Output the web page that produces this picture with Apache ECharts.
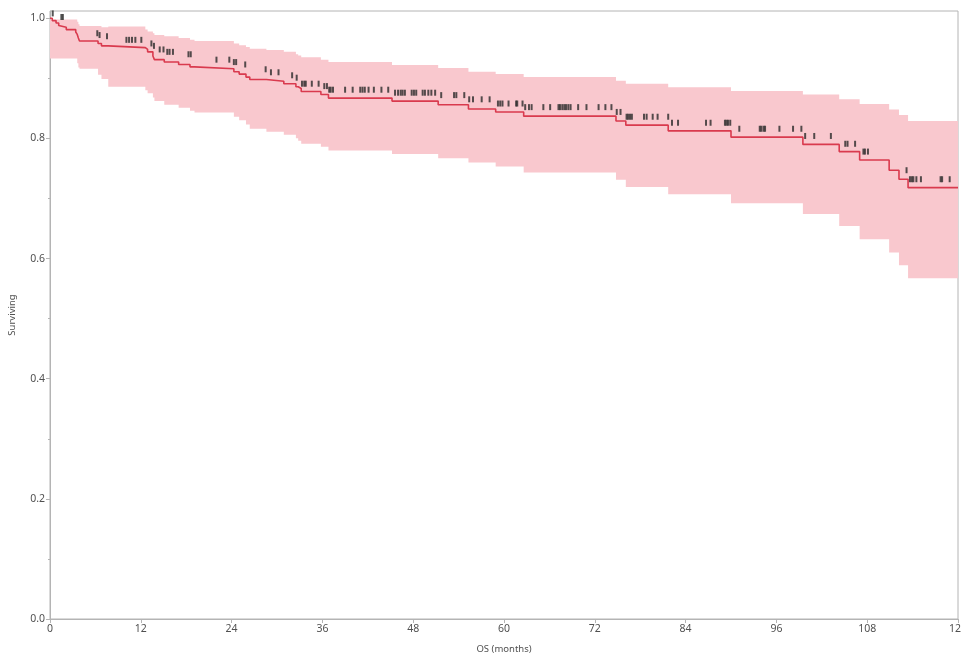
<!DOCTYPE html>
<html>
<head>
<meta charset="utf-8">
<title>Overall survival</title>
<script src="https://cdn.jsdelivr.net/npm/echarts@6/dist/echarts.min.js"></script>
<style>
  html, body { margin: 0; padding: 0; background: #ffffff; }
  #chart { width: 961px; height: 655px; }
</style>
</head>
<body>
<div id="chart"></div>
<script>
// Kaplan-Meier estimate: event times (months) and survival after each event
const eventTime = [0, 0.3, 0.8, 1.15, 1.3, 2.15, 3.4, 3.6, 3.75, 3.9, 6.35, 6.8, 7.7,
  12.6, 12.9, 13.6, 13.8, 15.1, 17.0, 18.5, 19.1, 24.3, 25.0, 25.9, 26.4, 28.6, 30.9,
  32.5, 32.8, 33.2, 35.8, 36.8, 45.2, 51.3, 55.3, 58.9, 62.6, 74.8, 76.1, 81.7, 90.0,
  99.5, 104.3, 107.0, 110.9, 112.2, 113.4];
const survival = [1.000, 0.996, 0.992, 0.988, 0.985, 0.981, 0.977, 0.973, 0.967, 0.962,
  0.958, 0.954, 0.951, 0.948, 0.944, 0.937, 0.931, 0.927, 0.923, 0.919, 0.916, 0.911,
  0.907, 0.902, 0.898, 0.895, 0.891, 0.886, 0.883, 0.878, 0.873, 0.867, 0.862, 0.856,
  0.849, 0.844, 0.837, 0.829, 0.822, 0.8125, 0.802, 0.790, 0.778, 0.764, 0.747, 0.732, 0.718];
const lowerCI = [0.933, 0.933, 0.933, 0.933, 0.933, 0.933, 0.933, 0.925, 0.918, 0.916,
  0.906, 0.899, 0.886, 0.880, 0.875, 0.868, 0.862, 0.856, 0.851, 0.846, 0.843, 0.836,
  0.830, 0.823, 0.816, 0.811, 0.806, 0.800, 0.796, 0.791, 0.786, 0.780, 0.774, 0.767,
  0.760, 0.753, 0.743, 0.731, 0.719, 0.707, 0.692, 0.674, 0.654, 0.632, 0.610, 0.589, 0.567];
const upperCI = [0.998, 0.998, 0.998, 0.998, 0.998, 0.998, 0.998, 0.994, 0.990, 0.987,
  0.987, 0.985, 0.986, 0.981, 0.978, 0.975, 0.972, 0.970, 0.967, 0.964, 0.962, 0.958,
  0.955, 0.952, 0.949, 0.947, 0.944, 0.940, 0.938, 0.935, 0.931, 0.927, 0.922, 0.917,
  0.911, 0.907, 0.902, 0.896, 0.891, 0.885, 0.879, 0.873, 0.865, 0.857, 0.848, 0.839, 0.829];
const followUpEnd = 120;

// Censored observations (time, plotted level)
const censorTime = [0.36, 1.5, 1.7, 6.25, 6.55, 7.53, 10.1, 10.45, 10.84, 11.28, 12.07,
  13.4, 13.74, 14.5, 15.0, 15.5, 15.8, 16.25, 18.3, 18.6, 22.0, 23.7, 24.3, 24.6, 25.8,
  28.5, 29.2, 30.2, 32.0, 32.6, 33.3, 33.6, 33.8, 34.6, 35.5, 36.25, 36.6, 36.9, 37.1,
  37.4, 39.0, 40.0, 41.0, 41.3, 41.6, 42.1, 42.8, 43.8, 44.7, 45.6, 46.0, 46.35, 46.6,
  46.9, 47.8, 48.1, 48.4, 49.25, 49.55, 50.0, 50.4, 50.9, 51.7, 53.4, 53.7, 54.75, 55.4,
  55.9, 57.05, 58.1, 59.2, 59.5, 59.8, 60.6, 61.6, 61.75, 62.45, 62.8, 63.3, 63.65, 65.2,
  66.1, 67.2, 67.4, 67.7, 67.97, 68.2, 68.5, 68.8, 69.8, 70.9, 72.5, 73.4, 74.2, 74.9,
  75.4, 76.2, 76.4, 76.65, 76.9, 78.5, 78.85, 79.65, 80.3, 81.7, 82.2, 83.0, 86.7, 87.3,
  89.2, 89.4, 89.6, 89.9, 91.1, 93.8, 94.0, 94.3, 94.5, 96.4, 98.2, 99.3, 99.8, 101.0,
  103.2, 105.1, 105.4, 106.4, 107.5, 107.7, 108.1, 113.2, 113.65, 113.9, 114.1, 114.5,
  115.1, 117.7, 117.9, 118.9];
const censorLevel = [1.008, 1.002, 1.002, 0.975, 0.972, 0.970, 0.964, 0.964, 0.964, 0.964,
  0.964, 0.958, 0.954, 0.948, 0.948, 0.944, 0.944, 0.944, 0.940, 0.940, 0.931, 0.931,
  0.927, 0.927, 0.923, 0.915, 0.910, 0.910, 0.905, 0.901, 0.891, 0.891, 0.891, 0.891,
  0.891, 0.887, 0.887, 0.881, 0.881, 0.881, 0.881, 0.881, 0.881, 0.881, 0.881, 0.881,
  0.881, 0.881, 0.881, 0.876, 0.876, 0.876, 0.876, 0.876, 0.876, 0.876, 0.876, 0.876,
  0.876, 0.876, 0.876, 0.876, 0.872, 0.872, 0.872, 0.872, 0.865, 0.865, 0.865, 0.865,
  0.858, 0.858, 0.858, 0.858, 0.858, 0.858, 0.858, 0.852, 0.852, 0.852, 0.852, 0.852,
  0.852, 0.852, 0.852, 0.852, 0.852, 0.852, 0.852, 0.852, 0.852, 0.852, 0.852, 0.852,
  0.844, 0.844, 0.836, 0.836, 0.836, 0.836, 0.836, 0.836, 0.836, 0.836, 0.836, 0.826,
  0.826, 0.826, 0.826, 0.826, 0.826, 0.826, 0.826, 0.816, 0.816, 0.816, 0.816, 0.816,
  0.816, 0.816, 0.816, 0.804, 0.804, 0.804, 0.791, 0.791, 0.791, 0.778, 0.778, 0.778,
  0.747, 0.732, 0.732, 0.732, 0.732, 0.732, 0.732, 0.732, 0.732];

// Axis ticks
const monthTicks = [0, 12, 24, 36, 48, 60, 72, 84, 96, 108, 120];
const survivalTicks = [0, 0.2, 0.4, 0.6, 0.8, 1.0];

const lastIdx = eventTime.length - 1;
const kmData = eventTime.map((t, i) => [t, survival[i]]).concat([[followUpEnd, survival[lastIdx]]]);
const bandData = eventTime.map((t, i) => [t, lowerCI[i], upperCI[i]]);
const censorData = censorTime.map((t, i) => [t, censorLevel[i]]);

const axisGrey = '#b4b4b4';
const textGrey = '#505050';
const fontFamily = '"Noto Sans", "Open Sans", sans-serif';

const chart = echarts.init(document.getElementById('chart'), null, { renderer: 'canvas' });

chart.setOption({
  animation: false,
  backgroundColor: '#ffffff',
  grid: {
    left: 50, right: 3, top: 11, bottom: 36,
    containLabel: false,
    outerBoundsMode: 'none',
    show: true, borderColor: axisGrey, borderWidth: 1, backgroundColor: 'transparent'
  },
  xAxis: {
    type: 'value',
    min: monthTicks[0],
    max: monthTicks[monthTicks.length - 1],
    interval: 12,
    name: 'OS (months)',
    nameLocation: 'middle',
    nameGap: 25,
    nameTextStyle: { color: textGrey, fontSize: 9.5, fontFamily: fontFamily },
    axisLine: { lineStyle: { color: axisGrey, width: 1 } },
    axisTick: { length: 4, lineStyle: { color: axisGrey } },
    axisLabel: { color: textGrey, fontSize: 10.5, fontFamily: fontFamily, margin: 5, hideOverlap: false },
    splitLine: { show: false }
  },
  yAxis: {
    type: 'value',
    min: 0,
    max: 1.012,
    interval: 0.2,
    name: 'Surviving',
    nameLocation: 'middle',
    nameGap: 33,
    nameTextStyle: { color: textGrey, fontSize: 9.5, fontFamily: fontFamily },
    axisLine: { show: true, lineStyle: { color: axisGrey, width: 1 } },
    axisTick: { show: true, length: 4, lineStyle: { color: axisGrey }, customValues: survivalTicks },
    minorTick: { show: true, splitNumber: 2, length: 2, lineStyle: { color: axisGrey } },
    minorSplitLine: { show: false },
    axisLabel: {
      color: textGrey, fontSize: 10.5, fontFamily: fontFamily, margin: 5,
      customValues: survivalTicks,
      formatter: v => v.toFixed(1)
    },
    splitLine: { show: false }
  },
  series: [
    {
      // 95% confidence band drawn as one stepped polygon
      type: 'custom',
      coordinateSystem: 'cartesian2d',
      data: bandData,
      encode: { x: 0, y: [1, 2] },
      silent: true,
      z: 1,
      renderItem: function (params, api) {
        if (params.dataIndex !== 0) return null;
        const top = [];
        const bottom = [];
        for (let i = 0; i < eventTime.length; i++) {
          const t0 = eventTime[i];
          const t1 = i < lastIdx ? eventTime[i + 1] : followUpEnd;
          top.push(api.coord([t0, upperCI[i]]), api.coord([t1, upperCI[i]]));
          bottom.push(api.coord([t0, lowerCI[i]]), api.coord([t1, lowerCI[i]]));
        }
        const points = top.concat(bottom.reverse());
        return {
          type: 'polygon',
          shape: { points: points },
          style: { fill: '#f9c8ce', stroke: null }
        };
      }
    },
    {
      type: 'line',
      data: kmData,
      step: 'end',
      symbol: 'none',
      z: 3,
      lineStyle: { color: '#d93a4e', width: 1.6 }
    },
    {
      type: 'scatter',
      data: censorData,
      symbol: 'rect',
      symbolSize: [2, 6],
      z: 4,
      clip: false,
      itemStyle: { color: '#2a2a2a' }
    }
  ]
});
</script>
</body>
</html>
